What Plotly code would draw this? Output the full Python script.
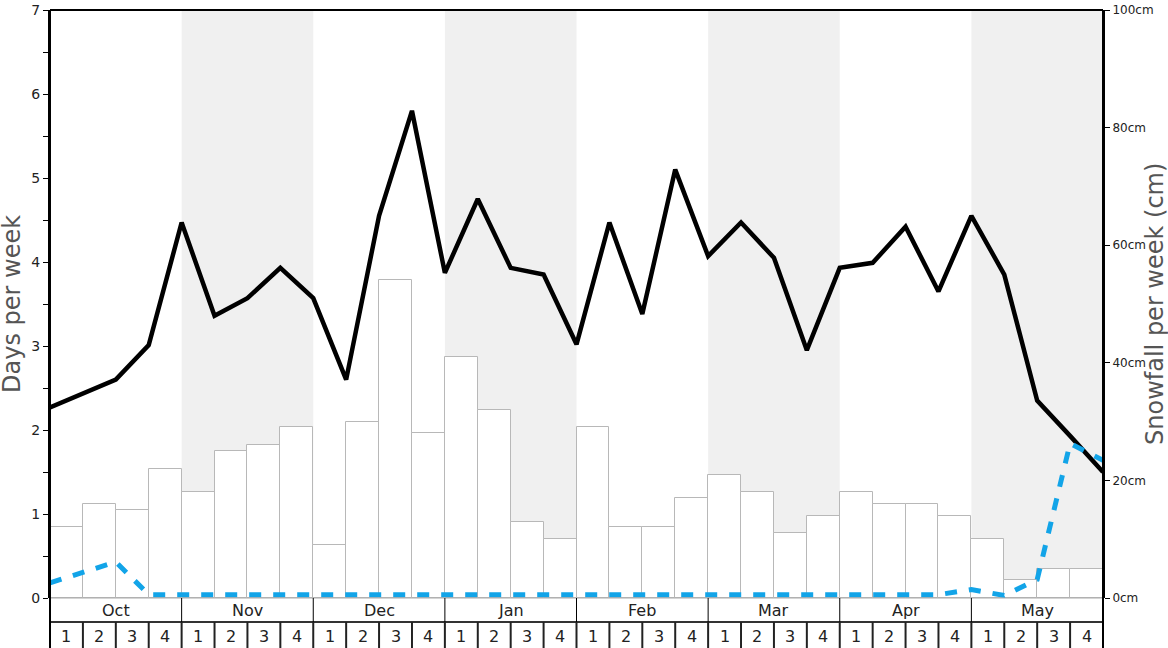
import plotly.graph_objects as go

MONTHS = ["Oct", "Nov", "Dec", "Jan", "Feb", "Mar", "Apr", "May"]
WEEK_LABELS = ["1", "2", "3", "4"]

# snowfall per week (cm), one per week
SNOWFALL = [12, 16, 15, 22, 18, 25, 26, 29, 9, 30, 54, 28, 41, 32, 13, 10,
            29, 12, 12, 17, 21, 18, 11, 14, 18, 16, 16, 14, 10, 3, 5, 5]

# days per week, sampled at week boundaries (33 points)
SNOW_DAYS = [2.27, 2.43, 2.6, 3.01, 4.47, 3.36, 3.57, 3.93, 3.57, 2.6, 4.55,
             5.8, 3.87, 4.75, 3.93, 3.85, 3.02, 4.47, 3.38, 5.1, 4.07, 4.47,
             4.05, 2.95, 3.93, 3.99, 4.42, 3.65, 4.55, 3.85, 2.35, 1.93, 1.5]
OTHER_DAYS = [0.18, 0.3, 0.43, 0.04, 0.04, 0.04, 0.04, 0.04, 0.04, 0.04, 0.04,
              0.04, 0.04, 0.04, 0.04, 0.04, 0.04, 0.04, 0.04, 0.04, 0.04, 0.04,
              0.04, 0.04, 0.04, 0.04, 0.04, 0.04, 0.1, 0.03, 0.22, 1.84, 1.64]

n_weeks = len(SNOWFALL)
wpm = len(WEEK_LABELS)

fig = go.Figure()

# bars on the primary (right, cm) axis so the day lines draw on top
fig.add_trace(go.Bar(
    x=[i + 0.5 for i in range(n_weeks)],
    y=SNOWFALL,
    width=1,
    yaxis="y",
    marker=dict(color="white", line=dict(color="#b8b8b8", width=1)),
    hoverinfo="y",
))
fig.add_trace(go.Scatter(
    x=list(range(len(SNOW_DAYS))),
    y=SNOW_DAYS,
    yaxis="y2",
    mode="lines",
    line=dict(color="black", width=4.5),
))
fig.add_trace(go.Scatter(
    x=list(range(len(OTHER_DAYS))),
    y=OTHER_DAYS,
    yaxis="y2",
    mode="lines",
    line=dict(color="#12a4e8", width=5, dash="12px,12px"),
))

shapes = []
annotations = []
row1 = -24 / 588
row2 = -52 / 588

# alternating month shading
for m in range(len(MONTHS)):
    if m % 2 == 1:
        shapes.append(dict(type="rect", xref="x", yref="paper",
                           x0=m * wpm, x1=(m + 1) * wpm, y0=0, y1=1,
                           fillcolor="#f0f0f0", line=dict(width=0), layer="below"))

# month / week table under the plot
shapes.append(dict(type="line", xref="paper", yref="paper", x0=0, x1=1,
                   y0=0, y1=0, line=dict(color="#aaa", width=1)))
shapes.append(dict(type="line", xref="paper", yref="paper", x0=0, x1=1,
                   y0=row1, y1=row1, line=dict(color="#333", width=2)))
for m, name in enumerate(MONTHS):
    xm = m * wpm / n_weeks
    if m > 0:
        shapes.append(dict(type="line", xref="paper", yref="paper", x0=xm, x1=xm,
                           y0=0, y1=row1, line=dict(color="black", width=1)))
    annotations.append(dict(text=name, xref="paper", yref="paper",
                            x=(m + 0.5) * wpm / n_weeks, y=row1 / 2,
                            xanchor="center", yanchor="middle",
                            showarrow=False, font=dict(size=16, color="#222")))
for w in range(n_weeks):
    xw = w / n_weeks
    if w > 0:
        shapes.append(dict(type="line", xref="paper", yref="paper", x0=xw, x1=xw,
                           y0=row1, y1=row2, line=dict(color="#222", width=2)))
    annotations.append(dict(text=WEEK_LABELS[w % wpm], xref="paper", yref="paper",
                            x=(w + 0.5) / n_weeks, y=(row1 + row2) / 2,
                            xanchor="center", yanchor="middle",
                            showarrow=False, font=dict(size=16, color="#222")))
for xe in (0, 1):
    shapes.append(dict(type="line", xref="paper", yref="paper", x0=xe, x1=xe,
                       y0=1, y1=row2, line=dict(color="black", width=2)))
shapes.append(dict(type="line", xref="paper", yref="paper", x0=0, x1=1,
                   y0=1, y1=1, line=dict(color="black", width=2)))

# axis titles
annotations.append(dict(text="Days per week", xref="paper", yref="paper",
                        x=(12 - 50) / 1053, y=0.5, xanchor="center", yanchor="middle",
                        textangle=-90, showarrow=False, borderpad=0,
                        font=dict(size=24, color="#555")))
annotations.append(dict(text="Snowfall per week (cm)", xref="paper", yref="paper",
                        x=1 + (1155 - 1103) / 1053, y=0.5, xanchor="center",
                        yanchor="middle", textangle=-90, showarrow=False, borderpad=0,
                        font=dict(size=24, color="#555")))

fig.update_layout(
    width=1168,
    height=648,
    margin=dict(l=50, r=65, t=10, b=50, autoexpand=False),
    plot_bgcolor="white",
    paper_bgcolor="white",
    showlegend=False,
    bargap=0,
    font=dict(family="DejaVu Sans", color="#222"),
    xaxis=dict(range=[0, n_weeks], showticklabels=False, showgrid=False,
               zeroline=False, ticks="", showline=False, automargin=False),
    yaxis=dict(range=[0, 100], dtick=20, side="right",
               ticksuffix="cm", ticks="outside", ticklen=5, tickcolor="black",
               showgrid=False, zeroline=False, showline=True, linecolor="black",
               linewidth=2, tickfont=dict(size=12, color="#222"), automargin=False),
    yaxis2=dict(range=[0, 7], dtick=1, overlaying="y", side="left",
                ticks="outside", ticklen=5, tickwidth=1,
                tickcolor="black", showgrid=False, zeroline=False,
                showline=True, linecolor="black", linewidth=2,
                minor=dict(dtick=0.5, ticks="outside", ticklen=5, tickcolor="black"),
                tickfont=dict(size=14, color="#222"), automargin=False),
    shapes=shapes,
    annotations=annotations,
)

fig.write_html("out.html", config={"displayModeBar": False},
               post_script="document.body.style.margin = '0';")
